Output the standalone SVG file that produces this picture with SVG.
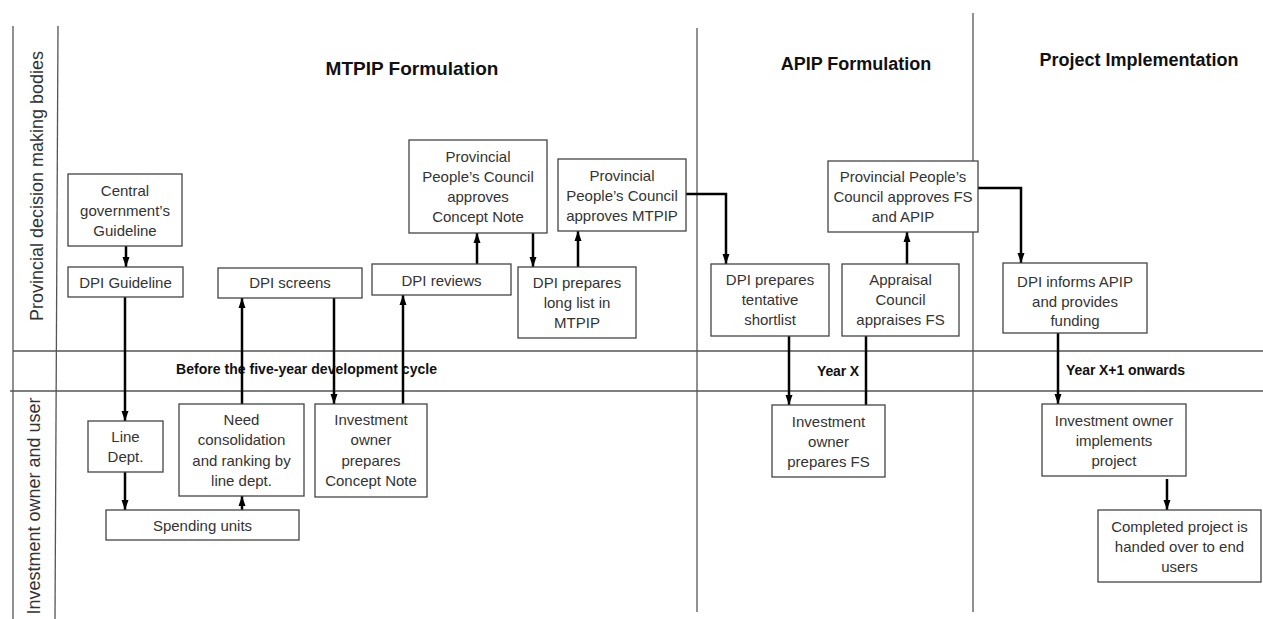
<svg xmlns="http://www.w3.org/2000/svg" width="1263" height="619" viewBox="0 0 1263 619">
<defs>
<marker id="ah" markerUnits="userSpaceOnUse" markerWidth="10" markerHeight="10" viewBox="0 0 10 10" refX="10" refY="5" orient="auto">
<path d="M0,1.5 L10,5 L0,8.5 Z" fill="#000"/>
</marker>
</defs>
<style>
.lane{stroke:#555;stroke-width:1.3;fill:none}
.box{fill:#fff;stroke:#444;stroke-width:1.3}
.t{font-family:"Liberation Sans",Arial,sans-serif;font-size:15px;fill:#333;text-anchor:middle}
.title{font-family:"Liberation Sans",Arial,sans-serif;font-size:18px;font-weight:bold;fill:#111;text-anchor:middle}
.band{font-family:"Liberation Sans",Arial,sans-serif;font-size:14px;font-weight:bold;fill:#111}
.lab{font-family:"Liberation Sans",Arial,sans-serif;font-size:18px;fill:#333;text-anchor:middle}
.c{stroke:#000;stroke-width:2.5;fill:none;marker-end:url(#ah)}
</style>
<rect width="1263" height="619" fill="#fff"/>
<g id="lanes">
<line class="lane" x1="13" y1="26" x2="13" y2="619"/>
<line class="lane" x1="58" y1="26" x2="55" y2="619"/>
<line class="lane" x1="13" y1="351" x2="1263" y2="351"/>
<line class="lane" x1="10" y1="391" x2="1263" y2="391"/>
<line class="lane" x1="697" y1="28" x2="697" y2="612"/>
<line class="lane" x1="973" y1="13" x2="973" y2="612"/>
</g>
<g id="labels">
<text class="lab" transform="translate(43,186) rotate(-90)">Provincial decision making bodies</text>
<text class="lab" transform="translate(40,506) rotate(-90)">Investment owner and user</text>
<text class="title" x="412" y="75" style="font-size:19px">MTPIP Formulation</text>
<text class="title" x="856" y="70">APIP Formulation</text>
<text class="title" x="1139" y="66">Project Implementation</text>
<text class="band" x="176" y="374" textLength="261">Before the five-year development cycle</text>
<text class="band" x="817" y="376" textLength="42">Year X</text>
<text class="band" x="1066" y="375" textLength="119">Year X+1 onwards</text>
</g>
<g id="connectors">
<path class="c" d="M126,246 V267"/>
<path class="c" d="M125,297 V421"/>
<path class="c" d="M125,472 V510"/>
<path class="c" d="M242,510 V496"/>
<path class="c" d="M242,404 V298"/>
<path class="c" d="M334,298 V404"/>
<path class="c" d="M403,404 V295"/>
<path class="c" d="M477,264 V233"/>
<path class="c" d="M533,233 V267"/>
<path class="c" d="M578,267 V231"/>
<path class="c" d="M686,194 H726 V264"/>
<path class="c" d="M789,336 V405"/>
<path class="c" d="M866,405 V325"/>
<path class="c" d="M907,264 V232"/>
<path class="c" d="M978,188 H1021 V263"/>
<path class="c" d="M1058,333 V404"/>
<path class="c" d="M1167,479 V510"/>
</g>
<g id="central-guideline">
<rect class="box" x="68" y="174" width="114" height="72"/>
<text class="t" x="125" y="196">Central</text>
<text class="t" x="125" y="216">government’s</text>
<text class="t" x="125" y="236">Guideline</text>
</g>
<g id="dpi-guideline">
<rect class="box" x="68" y="267" width="115" height="30"/>
<text class="t" x="125.5" y="288">DPI Guideline</text>
</g>
<g id="dpi-screens">
<rect class="box" x="218" y="268" width="144" height="30"/>
<text class="t" x="290" y="288">DPI screens</text>
</g>
<g id="dpi-reviews">
<rect class="box" x="372" y="264" width="139" height="31"/>
<text class="t" x="441.5" y="286">DPI reviews</text>
</g>
<g id="ppc-concept-note">
<rect class="box" x="409" y="140" width="138" height="93"/>
<text class="t" x="478" y="162">Provincial</text>
<text class="t" x="478" y="182">People’s Council</text>
<text class="t" x="478" y="202">approves</text>
<text class="t" x="478" y="222">Concept Note</text>
</g>
<g id="ppc-mtpip">
<rect class="box" x="558" y="159" width="128" height="72"/>
<text class="t" x="622" y="181">Provincial</text>
<text class="t" x="622" y="201">People’s Council</text>
<text class="t" x="622" y="221">approves MTPIP</text>
</g>
<g id="dpi-long-list">
<rect class="box" x="518" y="267" width="118" height="71"/>
<text class="t" x="577" y="288">DPI prepares</text>
<text class="t" x="577" y="308">long list in</text>
<text class="t" x="577" y="328">MTPIP</text>
</g>
<g id="dpi-shortlist">
<rect class="box" x="711" y="264" width="118" height="72"/>
<text class="t" x="770" y="285">DPI prepares</text>
<text class="t" x="770" y="305">tentative</text>
<text class="t" x="770" y="325">shortlist</text>
</g>
<g id="appraisal-council">
<rect class="box" x="842" y="264" width="117" height="72"/>
<text class="t" x="900.5" y="285">Appraisal</text>
<text class="t" x="900.5" y="305">Council</text>
<text class="t" x="900.5" y="325">appraises FS</text>
</g>
<g id="ppc-fs-apip">
<rect class="box" x="828" y="161" width="150" height="71"/>
<text class="t" x="903" y="182">Provincial People’s</text>
<text class="t" x="903" y="202">Council approves FS</text>
<text class="t" x="903" y="222">and APIP</text>
</g>
<g id="dpi-informs">
<rect class="box" x="1003" y="263" width="144" height="70"/>
<text class="t" x="1075" y="287">DPI informs APIP</text>
<text class="t" x="1075" y="307">and provides</text>
<text class="t" x="1075" y="326">funding</text>
</g>
<g id="line-dept">
<rect class="box" x="88" y="421" width="75" height="51"/>
<text class="t" x="125.5" y="442">Line</text>
<text class="t" x="125.5" y="462">Dept.</text>
</g>
<g id="need-consolidation">
<rect class="box" x="179" y="404" width="125" height="92"/>
<text class="t" x="241.5" y="425">Need</text>
<text class="t" x="241.5" y="445">consolidation</text>
<text class="t" x="241.5" y="466">and ranking by</text>
<text class="t" x="241.5" y="486">line dept.</text>
</g>
<g id="io-concept-note">
<rect class="box" x="315" y="404" width="112" height="93"/>
<text class="t" x="371" y="425">Investment</text>
<text class="t" x="371" y="445">owner</text>
<text class="t" x="371" y="466">prepares</text>
<text class="t" x="371" y="486">Concept Note</text>
</g>
<g id="spending-units">
<rect class="box" x="106" y="510" width="193" height="30"/>
<text class="t" x="202.5" y="531">Spending units</text>
</g>
<g id="io-fs">
<rect class="box" x="772" y="405" width="113" height="72"/>
<text class="t" x="828.5" y="427">Investment</text>
<text class="t" x="828.5" y="447">owner</text>
<text class="t" x="828.5" y="467">prepares FS</text>
</g>
<g id="io-implements">
<rect class="box" x="1042" y="404" width="144" height="72"/>
<text class="t" x="1114" y="426">Investment owner</text>
<text class="t" x="1114" y="446">implements</text>
<text class="t" x="1114" y="466">project</text>
</g>
<g id="completed">
<rect class="box" x="1098" y="510" width="163" height="72"/>
<text class="t" x="1179.5" y="532">Completed project is</text>
<text class="t" x="1179.5" y="552">handed over to end</text>
<text class="t" x="1179.5" y="572">users</text>
</g>
</svg>
